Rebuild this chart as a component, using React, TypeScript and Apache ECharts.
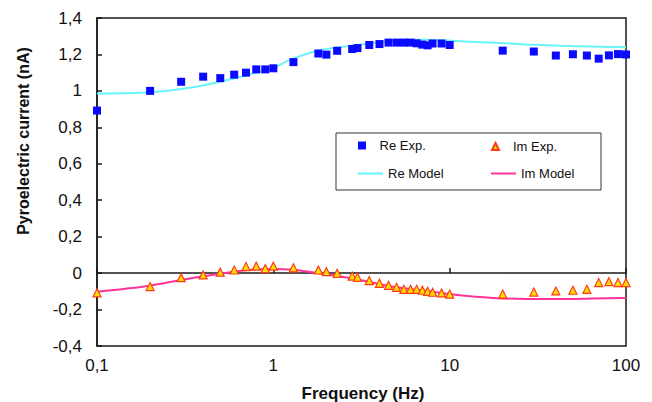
import React, { useEffect, useRef } from "react";
import * as echarts from "echarts";

// Experimental frequencies (Hz)
const freq = [0.1, 0.2, 0.3, 0.4, 0.5, 0.6, 0.7, 0.8, 0.9, 1, 1.3, 1.8, 2, 2.3, 2.8, 3, 3.5, 4, 4.5, 5, 5.5, 6, 6.5, 7, 7.5, 8, 9, 10, 20, 30, 40, 50, 60, 70, 80, 90, 100];
const reExp = [0.892, 1.0, 1.05, 1.078, 1.07, 1.089, 1.1, 1.118, 1.118, 1.124, 1.158, 1.205, 1.199, 1.22, 1.23, 1.235, 1.252, 1.257, 1.265, 1.265, 1.265, 1.265, 1.261, 1.254, 1.25, 1.26, 1.26, 1.252, 1.221, 1.216, 1.194, 1.201, 1.194, 1.177, 1.195, 1.202, 1.2];
const imExp = [-0.108, -0.074, -0.025, -0.01, 0.005, 0.017, 0.036, 0.038, 0.025, 0.038, 0.029, 0.017, 0.008, -0.001, -0.016, -0.023, -0.041, -0.056, -0.067, -0.078, -0.089, -0.089, -0.089, -0.094, -0.1, -0.105, -0.109, -0.115, -0.115, -0.104, -0.098, -0.094, -0.089, -0.052, -0.047, -0.052, -0.052];

// Model curves
const reModelFreq = [0.1, 0.2, 0.336, 0.52, 0.8, 1.0, 1.24, 1.76, 2.71, 3.52, 4.77, 7.38, 11.4, 17.6, 27.2, 42, 64.9, 100];
const reModelVal = [0.986, 0.993, 1.017, 1.054, 1.1, 1.125, 1.17, 1.219, 1.247, 1.261, 1.276, 1.28, 1.273, 1.264, 1.255, 1.248, 1.243, 1.239];
const imModelFreq = [0.1, 0.2, 0.3, 0.52, 0.8, 1.0, 1.3, 1.91, 3.0, 4.77, 7.38, 11.4, 17.6, 27.2, 42, 64.9, 100];
const imModelVal = [-0.102, -0.069, -0.038, -0.001, 0.021, 0.023, 0.018, -0.004, -0.035, -0.075, -0.098, -0.122, -0.136, -0.142, -0.142, -0.139, -0.136];

const yMin = -0.4;
const yMax = 1.4;
const yStep = 0.2;
const xMin = 0.1;
const xMax = 100;

const FONT = "'Liberation Sans', Arial, sans-serif";
const AXIS_COLOR = "#1a1a1a";

const SQUARE_ICON = "path://M0,0 L8,0 L8,8 L0,8 Z";
const TRIANGLE_ICON = "path://M4,0 L8,8 L0,8 Z";
const LINE_ICON = "path://M0,0 L25,0 L25,2 L0,2 Z";

export default function App() {
  const ref = useRef<HTMLDivElement>(null);

  useEffect(() => {
    document.body.style.margin = "0";
    if (!ref.current) return;
    const chart = echarts.init(ref.current, undefined, { renderer: "svg" });
    const pair = (xs: number[], ys: number[]) => xs.map((x, i) => [x, ys[i]]);

    const legendBase = {
      orient: "horizontal" as const,
      padding: 0,
      itemWidth: 25,
      itemHeight: 14,
      symbolKeepAspect: true,
      textStyle: { fontFamily: FONT, fontSize: 13, color: "#111" },
      selectedMode: false,
    };

    chart.setOption({
      animation: false,
      backgroundColor: "#ffffff",
      grid: {
        left: 97,
        right: 26,
        top: 18,
        bottom: 56,
        show: true,
        borderColor: AXIS_COLOR,
        borderWidth: 1.5,
        containLabel: false,
      },
      xAxis: {
        type: "log",
        logBase: 10,
        min: xMin,
        max: xMax,
        axisLine: { show: true, lineStyle: { color: AXIS_COLOR, width: 1.5 } },
        axisTick: { show: true, inside: true, length: 5, lineStyle: { color: AXIS_COLOR, width: 1.5 } },
        minorTick: { show: false },
        splitLine: { show: false },
        axisLabel: {
          margin: 11,
          fontFamily: FONT,
          fontSize: 17,
          color: "#111",
          formatter: (v: number) => String(Number(v.toPrecision(4))).replace(".", ","),
        },
      },
      yAxis: {
        type: "value",
        min: yMin,
        max: yMax,
        interval: yStep,
        axisLine: { show: true, lineStyle: { color: AXIS_COLOR, width: 1.5 } },
        axisTick: { show: true, inside: true, length: 5, lineStyle: { color: AXIS_COLOR, width: 1.5 } },
        splitLine: { show: false },
        axisLabel: {
          margin: 15,
          fontFamily: FONT,
          fontSize: 17,
          color: "#111",
          formatter: (v: number) => String(Math.round(v * 10) / 10).replace(".", ","),
        },
      },
      legend: [
        { ...legendBase, left: 358, top: 139, itemHeight: 8, data: [{ name: "Re Exp.", icon: SQUARE_ICON }] },
        { ...legendBase, left: 491, top: 140, itemHeight: 7, data: [{ name: "Im Exp.", icon: TRIANGLE_ICON }] },
        { ...legendBase, left: 358, top: 167, data: [{ name: "Re Model", icon: LINE_ICON }] },
        { ...legendBase, left: 491, top: 167, data: [{ name: "Im Model", icon: LINE_ICON }] },
      ],
      graphic: [
        {
          type: "rect",
          shape: { x: 336, y: 133, width: 265, height: 57 },
          style: { fill: "none", stroke: "#333", lineWidth: 1 },
          z: 10,
        },
        {
          type: "text",
          x: 363,
          y: 393,
          style: {
            text: "Frequency (Hz)",
            fontFamily: FONT,
            fontSize: 17,
            fontWeight: "bold",
            fill: "#111",
            textAlign: "center",
            textVerticalAlign: "middle",
          },
        },
        {
          type: "text",
          x: 23,
          y: 141,
          rotation: Math.PI / 2,
          style: {
            text: "Pyroelectric current (nA)",
            fontFamily: FONT,
            fontSize: 16,
            fontWeight: "bold",
            fill: "#111",
            textAlign: "center",
            textVerticalAlign: "middle",
          },
        },
      ],
      series: [
        {
          name: "Re Model",
          type: "line",
          data: pair(reModelFreq, reModelVal),
          symbol: "none",
          smooth: 0.3,
          lineStyle: { color: "#66f5fa", width: 2 },
          itemStyle: { color: "#66f5fa" },
          z: 2,
        },
        {
          name: "Im Model",
          type: "line",
          data: pair(imModelFreq, imModelVal),
          symbol: "none",
          smooth: 0.3,
          lineStyle: { color: "#ff3399", width: 2 },
          itemStyle: { color: "#ff3399" },
          z: 2,
        },
        {
          name: "Re Exp.",
          type: "scatter",
          data: pair(freq, reExp),
          symbol: "rect",
          symbolSize: 8,
          itemStyle: { color: "#0a0aff", opacity: 1 },
          z: 3,
        },
        {
          name: "Im Exp.",
          type: "scatter",
          data: pair(freq, imExp),
          symbol: "triangle",
          symbolSize: 8,
          itemStyle: { color: "#ffdd00", borderColor: "#ff3a1a", borderWidth: 1.2, opacity: 1 },
          z: 3,
        },
      ],
    });

    return () => chart.dispose();
  }, []);

  return <div ref={ref} style={{ width: 652, height: 402 }} />;
}
